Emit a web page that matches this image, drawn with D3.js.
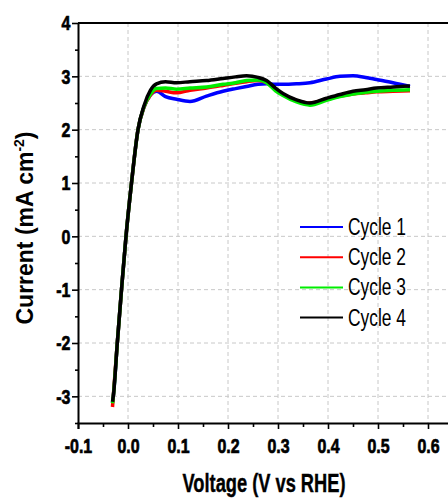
<!DOCTYPE html>
<html>
<head>
<meta charset="utf-8">
<script src="https://cdn.jsdelivr.net/npm/d3@7"></script>
<style>
  body { margin: 0; background: #fff; }
  .grid line { stroke: #c8c8c8; stroke-width: 1; stroke-dasharray: 4,3; }
</style>
</head>
<body>
<div id="vis_container"></div>
<script>
// Voltage grid (V vs RHE) shared by all cycles
var voltage = [-0.031, -0.0294, -0.0214, -0.013, -0.004, 0.007, 0.02, 0.032, 0.045, 0.057,
               0.075, 0.097, 0.124, 0.157, 0.19, 0.215, 0.237, 0.26, 0.277, 0.295,
               0.31, 0.337, 0.364, 0.397, 0.424, 0.45, 0.475, 0.497, 0.53, 0.564];

// Current (mA cm-2) for each cycle
var cycle1 = [-3.12, -3, -2, -1, 0, 1, 2, 2.42, 2.65, 2.72,
              2.62, 2.57, 2.53, 2.63, 2.72, 2.77, 2.81, 2.85, 2.86, 2.85,
              2.85, 2.86, 2.88, 2.95, 3.0, 3.01, 2.98, 2.94, 2.88, 2.81];
var cycle2 = [-3.2, -3, -2, -1, 0, 1, 2, 2.42, 2.65, 2.74,
              2.72, 2.69, 2.74, 2.78, 2.83, 2.87, 2.9, 2.92, 2.88, 2.75,
              2.66, 2.55, 2.5, 2.57, 2.63, 2.67, 2.69, 2.71, 2.72, 2.73];
var cycle3 = [-3.13, -3, -2, -1, 0, 1, 2, 2.43, 2.67, 2.77,
              2.78, 2.76, 2.78, 2.8, 2.85, 2.88, 2.92, 2.93, 2.88, 2.73,
              2.64, 2.52, 2.46, 2.55, 2.62, 2.67, 2.7, 2.72, 2.74, 2.75];
var cycle4 = [-3.1, -3, -2, -1, 0, 1, 2, 2.45, 2.74, 2.86,
              2.9, 2.88, 2.9, 2.92, 2.96, 2.99, 3.01, 2.98, 2.92, 2.78,
              2.68, 2.56, 2.5, 2.59, 2.66, 2.72, 2.75, 2.78, 2.8, 2.82];

var seriesNames = ["Cycle 1", "Cycle 2", "Cycle 3", "Cycle 4"];
var seriesColors = ["#0000ff", "#ff0000", "#00ee00", "#000000"];
var xTicks = [-0.1, 0.0, 0.1, 0.2, 0.3, 0.4, 0.5, 0.6];
var yTicks = [-3, -2, -1, 0, 1, 2, 3, 4];

var width = 448;
var height = 499;
var plotLeft = 78, plotRight = 453, plotTop = 23, plotBottom = 423;

var svg = d3.select("#vis_container")
    .append("svg")
    .attr("width", width)
    .attr("height", height);

var x = d3.scaleLinear().domain([-0.1, 0.65]).range([plotLeft, plotRight]);
var y = d3.scaleLinear().domain([-3.5, 4]).range([plotBottom, plotTop]);

// dashed grid
svg.append("g").attr("class", "grid")
    .selectAll("line").data(xTicks.filter(function (d) { return d > -0.1; }))
    .enter().append("line")
    .attr("x1", function (d) { return x(d); }).attr("x2", function (d) { return x(d); })
    .attr("y1", plotTop).attr("y2", plotBottom);
svg.append("g").attr("class", "grid")
    .selectAll("line").data(yTicks.filter(function (d) { return d < 4; }))
    .enter().append("line")
    .attr("x1", plotLeft).attr("x2", plotRight)
    .attr("y1", function (d) { return y(d); }).attr("y2", function (d) { return y(d); });

// minor ticks
var xMinor = [-0.05, 0.05, 0.15, 0.25, 0.35, 0.45, 0.55];
var yMinor = [-3.5, -2.5, -1.5, -0.5, 0.5, 1.5, 2.5, 3.5];

// plain hyphen instead of d3's unicode minus
function fmt(spec) {
    var f = d3.format(spec);
    return function (d) { return f(d).replace("\u2212", "-"); };
}

svg.append("g")
    .attr("transform", "translate(0," + plotBottom + ")")
    .call(d3.axisBottom(x).tickValues(xTicks).tickFormat(fmt(".1f")).tickSize(6).tickPadding(9));
svg.append("g")
    .attr("transform", "translate(0," + plotBottom + ")")
    .call(d3.axisBottom(x).tickValues(xMinor).tickFormat("").tickSize(4).tickSizeOuter(0))
    .select(".domain").remove();

svg.append("g")
    .attr("transform", "translate(" + plotLeft + ",0)")
    .call(d3.axisLeft(y).tickValues(yTicks).tickFormat(fmt("d")).tickSize(6).tickPadding(4).tickSizeOuter(0));
svg.append("g")
    .attr("transform", "translate(" + plotLeft + ",0)")
    .call(d3.axisLeft(y).tickValues(yMinor).tickFormat("").tickSize(3).tickSizeOuter(0))
    .select(".domain").remove();

svg.selectAll(".tick line").attr("stroke", "#000").attr("stroke-width", 1.6);
svg.selectAll(".domain").attr("stroke", "#000").attr("stroke-width", 2);
// labels in the original are heavy and condensed
svg.selectAll(".tick text")
    .attr("fill", "#000")
    .attr("stroke", "#000")
    .attr("stroke-width", 0.7)
    .style("font-family", "Liberation Sans, Arial, sans-serif")
    .style("font-weight", "bold")
    .style("font-size", "21px")
    .attr("transform", "scale(0.76,1)");

// top spine
svg.append("line")
    .attr("x1", plotLeft).attr("x2", plotRight)
    .attr("y1", plotTop).attr("y2", plotTop)
    .attr("stroke", "#000").attr("stroke-width", 2);

// axis titles
svg.append("text")
    .attr("x", 264)
    .attr("y", 492)
    .attr("text-anchor", "middle")
    .attr("textLength", 163)
    .attr("lengthAdjust", "spacingAndGlyphs")
    .attr("stroke", "#000")
    .attr("stroke-width", 0.4)
    .style("font-family", "Liberation Sans, Arial, sans-serif")
    .style("font-weight", "bold")
    .style("font-size", "25px")
    .text("Voltage (V vs RHE)");

var yTitle = svg.append("text")
    .attr("transform", "translate(33,228) rotate(-90)")
    .attr("text-anchor", "middle")
    .style("font-family", "Liberation Sans, Arial, sans-serif")
    .style("font-weight", "bold")
    .style("font-size", "23px");
yTitle.append("tspan").text("Current (mA cm");
yTitle.append("tspan").attr("dy", -9).style("font-size", "14px").text("-2");
yTitle.append("tspan").attr("dy", 9).text(")");

// the cycles
var cycles = [cycle1, cycle2, cycle3, cycle4];
var lineFunc = d3.line()
    .x(function (d, i) { return x(voltage[i]); })
    .y(function (d) { return y(d); })
    .curve(d3.curveMonotoneX);

cycles.forEach(function (c, k) {
    svg.append("path")
        .attr("d", lineFunc(c))
        .attr("stroke", seriesColors[k])
        .attr("stroke-width", 3.5)
        .attr("stroke-linejoin", "round")
        .attr("fill", "none");
});

// legend
var legend = svg.append("g").attr("transform", "translate(300,227)");
seriesNames.forEach(function (name, k) {
    var row = legend.append("g").attr("transform", "translate(0," + (k * 30.2) + ")");
    row.append("line")
        .attr("x1", 0).attr("x2", 43)
        .attr("stroke", seriesColors[k])
        .attr("stroke-width", 2);
    row.append("text")
        .attr("x", 48)
        .attr("y", 8)
        .attr("textLength", 58)
        .attr("lengthAdjust", "spacingAndGlyphs")
        .style("font-family", "Liberation Sans, Arial, sans-serif")
        .style("font-size", "23px")
        .text(name);
});
</script>
</body>
</html>
